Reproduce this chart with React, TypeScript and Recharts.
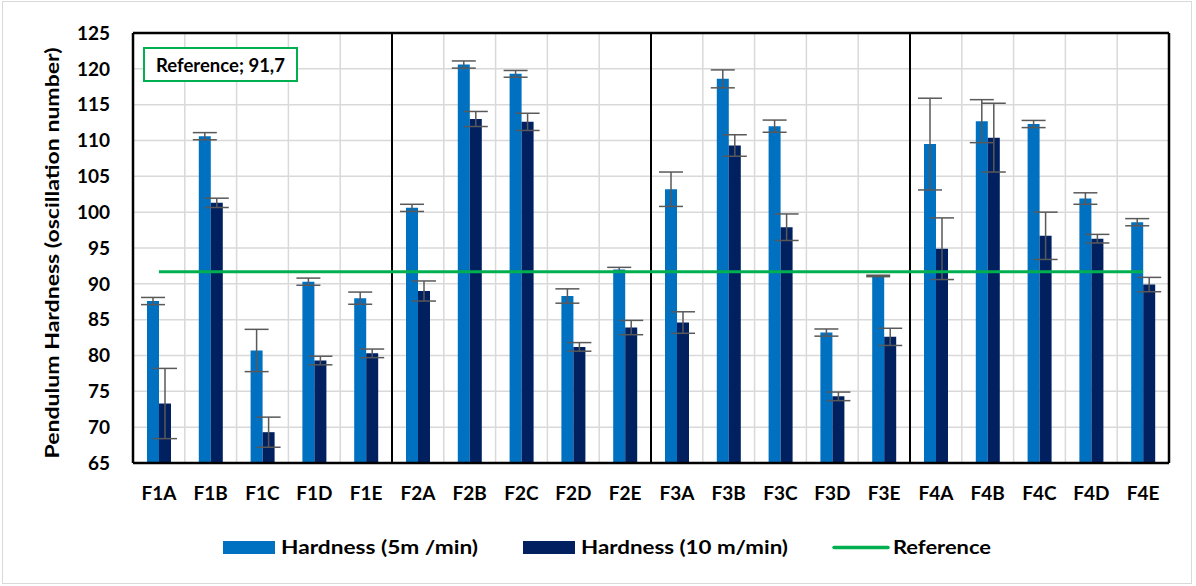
import React from 'react';
import {
  ComposedChart,
  Bar,
  Line,
  XAxis,
  YAxis,
  CartesianGrid,
  ErrorBar,
  ReferenceLine,
  Legend,
} from 'recharts';

// ---- data ----
const categories = [
  'F1A', 'F1B', 'F1C', 'F1D', 'F1E',
  'F2A', 'F2B', 'F2C', 'F2D', 'F2E',
  'F3A', 'F3B', 'F3C', 'F3D', 'F3E',
  'F4A', 'F4B', 'F4C', 'F4D', 'F4E',
];
const hardness5 = [
  87.6, 110.6, 80.7, 90.3, 88.0,
  100.6, 120.6, 119.3, 88.3, 92.0,
  103.2, 118.6, 112.0, 83.2, 91.1,
  109.5, 112.7, 112.3, 101.9, 98.6,
];
const hardness5Err = [
  0.5, 0.5, 2.95, 0.5, 0.85,
  0.5, 0.5, 0.47, 1.0, 0.3,
  2.4, 1.25, 0.85, 0.5, 0.1,
  6.4, 3.0, 0.5, 0.8, 0.5,
];
const hardness10 = [
  73.3, 101.3, 69.3, 79.3, 80.3,
  89.0, 113.0, 112.6, 81.2, 83.9,
  84.6, 109.3, 97.9, 74.3, 82.6,
  94.9, 110.4, 96.7, 96.3, 89.9,
];
const hardness10Err = [
  4.9, 0.65, 2.1, 0.6, 0.6,
  1.4, 1.05, 1.2, 0.6, 1.0,
  1.5, 1.5, 1.85, 0.6, 1.2,
  4.3, 4.8, 3.3, 0.6, 1.0,
];
const referenceValue = 91.7;
const yTicks = [65, 70, 75, 80, 85, 90, 95, 100, 105, 110, 115, 120, 125];
const gridTicks = Array.from({ length: 21 }, (_, i) => i);
const groupSeparators = [5, 10, 15];
const seriesNames = ['Hardness (5m /min)', 'Hardness (10 m/min)', 'Reference'];
const yAxisTitle = 'Pendulum Hardness (oscillation number)';
const referenceBoxText = 'Reference; 91,7';

const data = categories.map((c, i) => ({
  name: c,
  idx: i + 0.5,
  h5: hardness5[i],
  h5err: hardness5Err[i],
  h10: hardness10[i],
  h10err: hardness10Err[i],
  refLevel: referenceValue,
}));

const FONT = 'Lato, "Open Sans", sans-serif';
const LIGHT = '#0070C0';
const DARK = '#002060';
const GREEN = '#00B050';

const YTitle = (props: any) => {
  const vb = props.viewBox || {};
  const cy = (vb.y ?? 33) + (vb.height ?? 430) / 2 + 5;
  const x = 59;
  return (
    <text
      x={x}
      y={cy}
      transform={`rotate(-90, ${x}, ${cy})`}
      textAnchor="middle"
      fontFamily={FONT}
      fontWeight={700}
      fontSize={19.5}
      fill="#000"
      textLength={411}
      lengthAdjust="spacingAndGlyphs"
    >
      {yAxisTitle}
    </text>
  );
};

const legendLayout = [
  { sx: 223, sw: 52, tx: 281, tw: 197 },
  { sx: 523, sw: 52, tx: 581, tw: 207 },
  { sx: 834, sw: 54, tx: 893, tw: 98 },
];

const LegendContent = (props: any) => {
  const payload = (props.payload || []) as any[];
  const byName: Record<string, any> = {};
  payload.forEach((p) => (byName[p.value] = p));
  return (
    <svg width={1196} height={30} style={{ display: 'block' }}>
      {seriesNames.map((n, i) => {
        const l = legendLayout[i];
        const p = byName[n];
        const color = p?.color || [LIGHT, DARK, GREEN][i];
        return (
          <g key={n}>
            {i < 2 ? (
              <rect x={l.sx} y={8} width={l.sw} height={13} fill={color} />
            ) : (
              <line x1={l.sx} x2={l.sx + l.sw} y1={14.5} y2={14.5} stroke={color} strokeWidth={3.5} strokeLinecap="round" />
            )}
            <text
              x={l.tx}
              y={21}
              fontFamily={FONT}
              fontWeight={700}
              fontSize={18.5}
              fill="#000"
              textLength={l.tw}
              lengthAdjust="spacingAndGlyphs"
            >
              {n}
            </text>
          </g>
        );
      })}
    </svg>
  );
};

export default function App() {
  return (
    <div
      style={{
        position: 'absolute',
        left: 0,
        top: 0,
        width: 1196,
        height: 586,
        background: '#fff',
        fontFamily: FONT,
      }}
    >
      <div
        style={{
          position: 'absolute',
          left: 2,
          top: 1,
          width: 1190,
          height: 583,
          border: '1px solid #D9D9D9',
          boxSizing: 'border-box',
        }}
      />
      <ComposedChart
        width={1196}
        height={586}
        data={data}
        margin={{ top: 33, right: 27, bottom: 83, left: 0 }}
        barGap={0}
        barCategoryGap="26%"
      >
        <XAxis xAxisId="grid" type="number" dataKey="idx" domain={[0, 20]} ticks={gridTicks} hide allowDataOverflow />
        <XAxis
          xAxisId="cat"
          dataKey="name"
          height={40}
          axisLine={false}
          tickLine={false}
          tickSize={0}
          tickMargin={24}
          interval={0}
          tick={{ fontFamily: FONT, fontWeight: 700, fontSize: 19, fill: '#000' }}
        />
        <YAxis
          yAxisId="y"
          width={133}
          domain={[65, 125]}
          ticks={yTicks}
          allowDataOverflow
          axisLine={false}
          tickLine={false}
          tickSize={0}
          tickMargin={23}
          interval={0}
          tick={{ fontFamily: FONT, fontWeight: 700, fontSize: 19, fill: '#000' }}
          label={<YTitle />}
        />
        <CartesianGrid xAxisId="grid" yAxisId="y" stroke="#D9D9D9" strokeWidth={1.5} />
        {groupSeparators.map((s) => (
          <ReferenceLine key={s} xAxisId="grid" yAxisId="y" x={s} stroke="#000" strokeWidth={2} />
        ))}
        <ReferenceLine xAxisId="grid" yAxisId="y" x={0} stroke="#000" strokeWidth={2.5} />
        <ReferenceLine xAxisId="grid" yAxisId="y" x={20} stroke="#000" strokeWidth={2.5} />
        <ReferenceLine xAxisId="grid" yAxisId="y" y={65} stroke="#000" strokeWidth={2.5} />
        <ReferenceLine xAxisId="grid" yAxisId="y" y={125} stroke="#000" strokeWidth={2.5} />
        <Bar xAxisId="cat" yAxisId="y" dataKey="h5" name={seriesNames[0]} fill={LIGHT} barSize={12} isAnimationActive={false}>
          <ErrorBar dataKey="h5err" width={12} strokeWidth={1.5} stroke="#595959" direction="y" />
        </Bar>
        <Bar xAxisId="cat" yAxisId="y" dataKey="h10" name={seriesNames[1]} fill={DARK} barSize={12} isAnimationActive={false}>
          <ErrorBar dataKey="h10err" width={12} strokeWidth={1.5} stroke="#595959" direction="y" />
        </Bar>
        <Line
          xAxisId="cat"
          yAxisId="y"
          dataKey="refLevel"
          name={seriesNames[2]}
          stroke={GREEN}
          strokeWidth={3}
          dot={false}
          activeDot={false}
          isAnimationActive={false}
        />
        <Legend
          verticalAlign="middle"
          layout="horizontal"
          wrapperStyle={{ position: 'absolute', top: 533, left: 0, width: 1196, height: 30 }}
          content={<LegendContent />}
        />
      </ComposedChart>
      <div
        style={{
          position: 'absolute',
          left: 143,
          top: 47,
          width: 155,
          height: 35,
          boxSizing: 'border-box',
          border: `2px solid ${GREEN}`,
          background: '#fff',
          fontFamily: FONT,
          fontWeight: 700,
          fontSize: 18.5,
          color: '#000',
          display: 'flex',
          alignItems: 'center',
          justifyContent: 'center',
          whiteSpace: 'nowrap',
        }}
      >
        {referenceBoxText}
      </div>
    </div>
  );
}
